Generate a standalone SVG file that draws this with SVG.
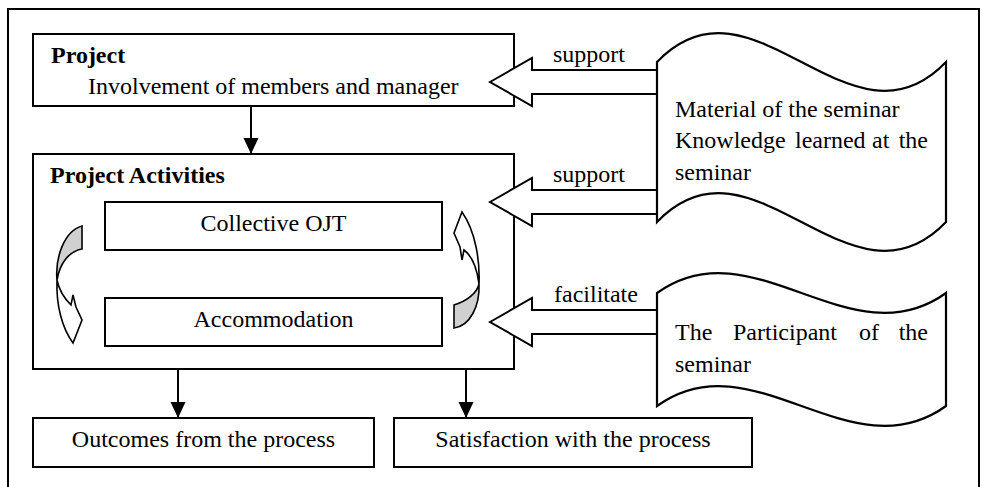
<svg xmlns="http://www.w3.org/2000/svg" width="983" height="487" viewBox="0 0 983 487">
<style>
  .box{fill:#fff;stroke:#000;stroke-width:2}
  .t{font-family:"Liberation Serif","Times New Roman",serif;font-size:24px;fill:#000}
  .b{font-weight:bold}
  .blk{fill:#fff;stroke:#000;stroke-width:2;stroke-linejoin:miter}
  .ln{stroke:#000;stroke-width:2;fill:none}
  .wave{fill:#fff;stroke:#000;stroke-width:2.2}
  .cw{fill:#fff;stroke:#000;stroke-width:1.6;stroke-linejoin:miter}
  .cg{fill:#d0d0d0;stroke:#000;stroke-width:1.6}
</style>
<defs>
  <marker id="ah" markerUnits="userSpaceOnUse" markerWidth="16" markerHeight="16" refX="16" refY="7.5" orient="auto">
    <path d="M0,0 L16,7.5 L0,15 Z" fill="#000"/>
  </marker>
</defs>
<rect width="983" height="487" fill="#fff"/>
<path class="ln" d="M8,490 V9 H979 V490"/>

<g id="project">
  <rect class="box" x="33" y="34" width="481" height="72"/>
  <text class="t b" x="51" y="63">Project</text>
  <text class="t" x="88" y="94">Involvement of members and manager</text>
</g>

<g id="project-activities">
  <rect class="box" x="33" y="154" width="481" height="215"/>
  <text class="t b" x="50" y="183">Project Activities</text>
</g>

<g id="collective-ojt">
  <rect class="box" x="105" y="202" width="337" height="48"/>
  <text class="t" x="273.5" y="231" text-anchor="middle">Collective OJT</text>
</g>

<g id="accommodation">
  <rect class="box" x="105" y="298" width="337" height="48"/>
  <text class="t" x="273.5" y="327" text-anchor="middle">Accommodation</text>
</g>

<g id="outcomes">
  <rect class="box" x="33" y="418" width="341" height="49"/>
  <text class="t" x="203.5" y="447" text-anchor="middle">Outcomes from the process</text>
</g>

<g id="satisfaction">
  <rect class="box" x="394" y="418" width="358" height="49"/>
  <text class="t" x="573" y="447" text-anchor="middle">Satisfaction with the process</text>
</g>

<g id="cycle-left">
  <path class="cg" d="M82,226 L82,249 C70,251 60,262 57,280 C55,258 64,231 82,226 Z"/>
  <path class="cw" d="M57,280 C56,305 62,328 73,343 L82,320 L76,307 L73,295 L71,305 C64,298 59,290 57,280 Z"/>
</g>

<g id="cycle-right">
  <path class="cg" d="M454,305 C467,301 477,293 479,284 C480,306 470,326 454,328 Z"/>
  <path class="cw" d="M479,284 C480,262 476,232 462,212 L454,233 L460,247 L462,260 L464,250 C472,256 477,268 479,284 Z"/>
</g>

<g id="connectors">
  <line class="ln" x1="251" y1="106" x2="251" y2="154" marker-end="url(#ah)"/>
  <line class="ln" x1="178" y1="369" x2="178" y2="418" marker-end="url(#ah)"/>
  <line class="ln" x1="466" y1="369" x2="466" y2="418" marker-end="url(#ah)"/>
  <polygon class="blk" points="490,82 532,58 532,70 658,70 658,94 532,94 532,106"/>
  <polygon class="blk" points="490,202 532,178 532,190 658,190 658,214 532,214 532,226"/>
  <polygon class="blk" points="490,322 532,298 532,310 658,310 658,334 532,334 532,346"/>
  <text class="t" x="553" y="62">support</text>
  <text class="t" x="553" y="182">support</text>
  <text class="t" x="554" y="302">facilitate</text>
</g>

<g id="seminar-material">
  <path class="wave" d="M657,62 C753,-38 850,162 946,62 L946,222 C850,322 753,122 657,222 Z"/>
  <text class="t" x="675" y="117">Material of the seminar</text>
  <text class="t" x="675" y="148">Knowledge</text>
  <text class="t" x="795" y="148">learned</text>
  <text class="t" x="872" y="148">at</text>
  <text class="t" x="928" y="148" text-anchor="end">the</text>
  <text class="t" x="675" y="180">seminar</text>
</g>

<g id="seminar-participant">
  <path class="wave" d="M657,293 C753,224 850,362 946,293 L946,406 C850,475 753,337 657,406 Z"/>
  <text class="t" x="675" y="340">The</text>
  <text class="t" x="733" y="340">Participant</text>
  <text class="t" x="859" y="340">of</text>
  <text class="t" x="928" y="340" text-anchor="end">the</text>
  <text class="t" x="675" y="372">seminar</text>
</g>
</svg>
